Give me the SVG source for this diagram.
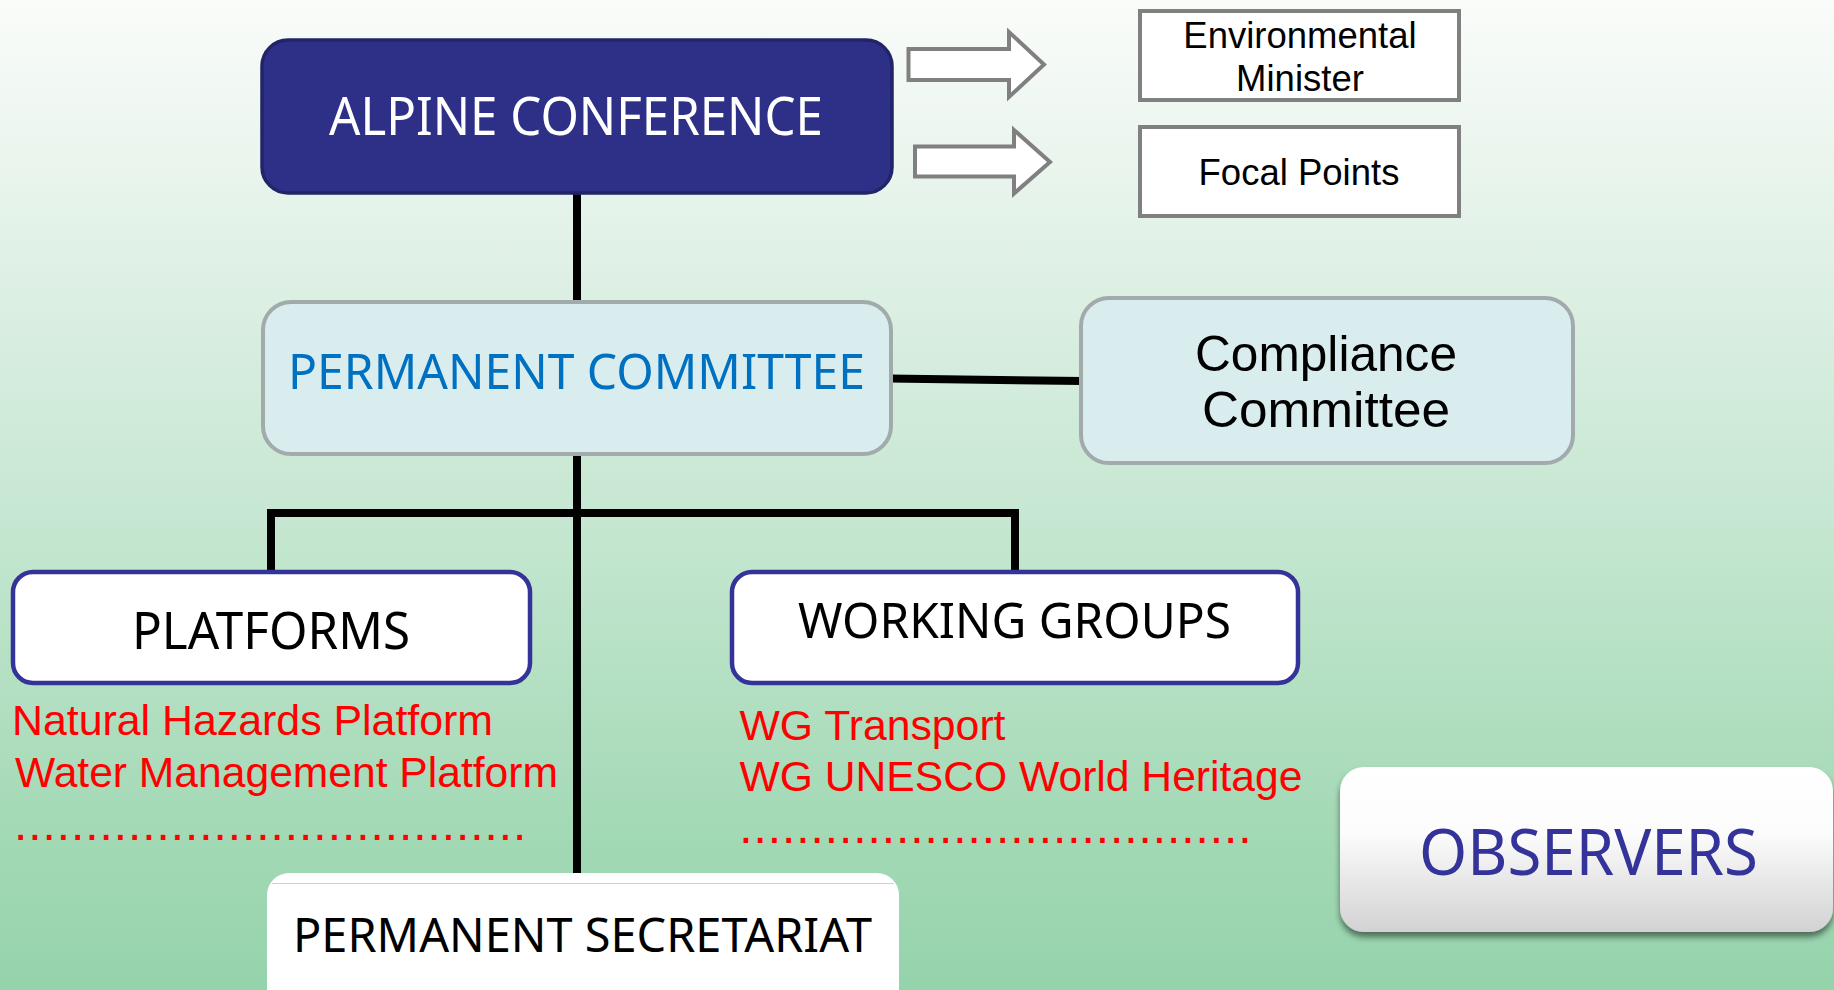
<svg xmlns="http://www.w3.org/2000/svg" width="1834" height="990" viewBox="0 0 1834 990">
  <defs>
    <linearGradient id="bg" x1="0" y1="0" x2="0" y2="1">
      <stop offset="0" stop-color="#FAFCFA"/>
      <stop offset="0.3" stop-color="#DCEFE3"/>
      <stop offset="0.55" stop-color="#C3E6CF"/>
      <stop offset="0.84" stop-color="#A3D9B5"/>
      <stop offset="1" stop-color="#95D3AB"/>
    </linearGradient>
    <linearGradient id="obsFill" x1="0" y1="0" x2="0" y2="1">
      <stop offset="0" stop-color="#FFFFFF"/>
      <stop offset="0.4" stop-color="#FCFCFC"/>
      <stop offset="1" stop-color="#D2D2D2"/>
    </linearGradient>
    <filter id="softShadow" x="-5%" y="-10%" width="115%" height="130%">
      <feGaussianBlur in="SourceAlpha" stdDeviation="3"/>
      <feOffset dx="0" dy="5" result="off"/>
      <feComponentTransfer><feFuncA type="linear" slope="0.5"/></feComponentTransfer>
      <feMerge><feMergeNode/><feMergeNode in="SourceGraphic"/></feMerge>
    </filter>
    <style>
      .title { font-family: "Noto Sans", "Open Sans", "DejaVu Sans", sans-serif; }
      .arial { font-family: "Liberation Sans", Arial, sans-serif; }
      .small { font-family: "Liberation Sans", Arial, sans-serif; font-size: 36.5px; fill: #000000; text-anchor: middle; }
      .red { font-family: "Liberation Sans", Arial, sans-serif; font-size: 42px; fill: #FF0000; }
      .dots { font-family: "Liberation Sans", Arial, sans-serif; font-size: 48px; fill: #FF0000; letter-spacing: 0.92px; }
      .pale { fill: #DAEDEE; stroke: #A2ABAB; stroke-width: 4; }
      .framed { fill: #FFFFFF; stroke: #333399; stroke-width: 4.5; }
      .grey { fill: #FFFFFF; stroke: #808080; stroke-width: 4; }
      .wire { fill: none; stroke: #000000; stroke-width: 8; stroke-linejoin: miter; }
    </style>
  </defs>

  <!-- background -->
  <rect x="0" y="0" width="1834" height="990" fill="url(#bg)"/>

  <!-- connectors -->
  <g id="connectors">
    <line class="wire" x1="577" y1="192" x2="577" y2="303"/>
    <line class="wire" x1="577" y1="453" x2="577" y2="874"/>
    <path class="wire" d="M271,573 V513 H1015 V573"/>
    <line class="wire" x1="889" y1="378.5" x2="1083" y2="381"/>
  </g>

  <!-- Alpine Conference -->
  <g id="alpine-conference">
    <rect x="262" y="40" width="630" height="153" rx="26" fill="#2E3087" stroke="#212468" stroke-width="3.5"/>
    <text class="title" x="329" y="135" font-size="52" fill="#FFFFFF" textLength="494" lengthAdjust="spacingAndGlyphs">ALPINE CONFERENCE</text>
  </g>

  <!-- block arrows -->
  <g id="arrow-minister">
    <polygon class="grey" points="908.5,49 1009,49 1009,32 1044,64.5 1009,97 1009,80 908.5,80"/>
  </g>
  <g id="arrow-focal">
    <polygon class="grey" points="915,146.5 1014,146.5 1014,130 1050,162 1014,193.5 1014,176.5 915,176.5"/>
  </g>

  <!-- Environmental Minister -->
  <g id="environmental-minister">
    <rect class="grey" x="1140" y="11" width="319" height="89"/>
    <text class="small" x="1300" y="47.5">Environmental</text>
    <text class="small" x="1300" y="90.7">Minister</text>
  </g>

  <!-- Focal Points -->
  <g id="focal-points">
    <rect class="grey" x="1140" y="127" width="319" height="89"/>
    <text class="small" x="1299" y="185">Focal Points</text>
  </g>

  <!-- Permanent Committee -->
  <g id="permanent-committee">
    <rect class="pale" x="263" y="302" width="628" height="152" rx="28"/>
    <text class="title" x="288" y="389" font-size="49" fill="#0070C0" textLength="577" lengthAdjust="spacingAndGlyphs">PERMANENT COMMITTEE</text>
  </g>

  <!-- Compliance Committee -->
  <g id="compliance-committee">
    <rect class="pale" x="1081" y="298" width="492" height="165" rx="28"/>
    <text class="arial" x="1195" y="371" font-size="50" fill="#000000" textLength="262" lengthAdjust="spacingAndGlyphs">Compliance</text>
    <text class="arial" x="1202" y="427" font-size="50" fill="#000000" textLength="248" lengthAdjust="spacingAndGlyphs">Committee</text>
  </g>

  <!-- Platforms -->
  <g id="platforms">
    <rect class="framed" x="13" y="572" width="517" height="111" rx="20"/>
    <text class="title" x="132" y="649" font-size="51" fill="#000000" textLength="278" lengthAdjust="spacingAndGlyphs">PLATFORMS</text>
    <text class="red" x="12" y="735" textLength="481" lengthAdjust="spacingAndGlyphs">Natural Hazards Platform</text>
    <text class="red" x="15" y="787" textLength="543" lengthAdjust="spacingAndGlyphs">Water Management Platform</text>
    <text class="dots" x="14" y="839.5">....................................</text>
  </g>

  <!-- Working Groups -->
  <g id="working-groups">
    <rect class="framed" x="732" y="572" width="566" height="111" rx="20"/>
    <text class="title" x="798" y="638" font-size="50" fill="#000000" textLength="433" lengthAdjust="spacingAndGlyphs">WORKING GROUPS</text>
    <text class="red" x="739.5" y="740" textLength="266" lengthAdjust="spacingAndGlyphs">WG Transport</text>
    <text class="red" x="739.5" y="791" textLength="563" lengthAdjust="spacingAndGlyphs">WG UNESCO World Heritage</text>
    <text class="dots" x="739.3" y="843">....................................</text>
  </g>

  <!-- Permanent Secretariat -->
  <g id="permanent-secretariat">
    <rect x="267" y="873" width="632" height="150" rx="22" fill="#FFFFFF"/>
    <line x1="272" y1="883.5" x2="894" y2="883.5" stroke="#B8E0C6" stroke-width="1"/>
    <text class="title" x="293" y="952" font-size="48" fill="#000000" textLength="579" lengthAdjust="spacingAndGlyphs">PERMANENT SECRETARIAT</text>
  </g>

  <!-- Observers -->
  <g id="observers">
    <rect x="1340" y="767" width="493" height="165" rx="24" fill="url(#obsFill)" filter="url(#softShadow)"/>
    <text class="title" x="1419" y="875" font-size="64" fill="#333399" textLength="339" lengthAdjust="spacingAndGlyphs">OBSERVERS</text>
  </g>
</svg>
